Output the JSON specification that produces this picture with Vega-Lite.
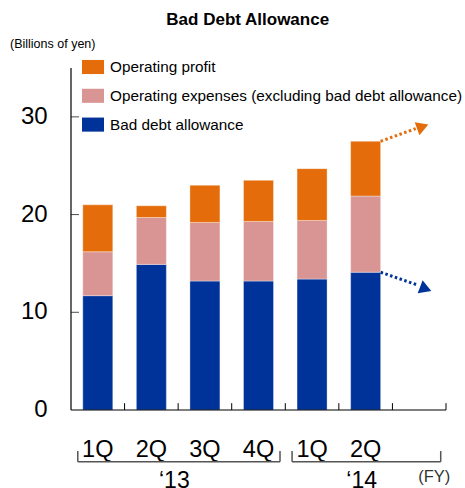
{
  "$schema": "https://vega.github.io/schema/vega-lite/v6.json",
  "width": 375,
  "height": 342,
  "autosize": {"type": "none"},
  "padding": {"left": 71, "top": 68, "right": 19, "bottom": 78},
  "config": {
    "font": "Liberation Sans",
    "view": {"stroke": null}
  },
  "layer": [
    {
      "data": {
        "values": [
          {"q": "1Q13", "cat": "Bad debt allowance", "v": 11.7},
          {"q": "1Q13", "cat": "Operating expenses (excluding bad debt allowance)", "v": 4.5},
          {"q": "1Q13", "cat": "Operating profit", "v": 4.8},
          {"q": "2Q13", "cat": "Bad debt allowance", "v": 14.9},
          {"q": "2Q13", "cat": "Operating expenses (excluding bad debt allowance)", "v": 4.8},
          {"q": "2Q13", "cat": "Operating profit", "v": 1.2},
          {"q": "3Q13", "cat": "Bad debt allowance", "v": 13.2},
          {"q": "3Q13", "cat": "Operating expenses (excluding bad debt allowance)", "v": 6.0},
          {"q": "3Q13", "cat": "Operating profit", "v": 3.8},
          {"q": "4Q13", "cat": "Bad debt allowance", "v": 13.2},
          {"q": "4Q13", "cat": "Operating expenses (excluding bad debt allowance)", "v": 6.1},
          {"q": "4Q13", "cat": "Operating profit", "v": 4.2},
          {"q": "1Q14", "cat": "Bad debt allowance", "v": 13.4},
          {"q": "1Q14", "cat": "Operating expenses (excluding bad debt allowance)", "v": 6.0},
          {"q": "1Q14", "cat": "Operating profit", "v": 5.3},
          {"q": "2Q14", "cat": "Bad debt allowance", "v": 14.1},
          {"q": "2Q14", "cat": "Operating expenses (excluding bad debt allowance)", "v": 7.8},
          {"q": "2Q14", "cat": "Operating profit", "v": 5.6}
        ]
      },
      "mark": {"type": "bar", "width": {"band": 0.56}, "stroke": "#ffffff", "strokeOpacity": 0.35, "strokeWidth": 1},
      "encoding": {
        "x": {
          "field": "q",
          "type": "nominal",
          "sort": null,
          "scale": {"domain": ["1Q13", "2Q13", "3Q13", "4Q13", "1Q14", "2Q14", "3Q14"], "paddingInner": 0, "paddingOuter": 0},
          "axis": null
        },
        "y": {
          "field": "v",
          "type": "quantitative",
          "stack": "zero",
          "scale": {"domain": [0, 35], "nice": false},
          "axis": null
        },
        "order": {"field": "cat", "sort": "ascending"},
        "color": {
          "field": "cat",
          "type": "nominal",
          "scale": {
            "domain": ["Operating profit", "Operating expenses (excluding bad debt allowance)", "Bad debt allowance"],
            "range": ["#e46c0a", "#d99594", "#003399"]
          },
          "legend": {
            "orient": "none",
            "legendX": 11,
            "legendY": -12,
            "title": null,
            "padding": 0,
            "symbolType": "M-1,-0.64H1V0.64H-1Z",
            "symbolSize": 484,
            "symbolStrokeWidth": 0,
            "symbolOpacity": 1,
            "labelFontSize": 15.3,
            "labelColor": "#000",
            "labelOffset": 6,
            "labelLimit": 400,
            "rowPadding": 8.8
          }
        }
      }
    },
    {
      "data": {"values": [{"a": "1Q13"}]},
      "mark": {"type": "rule", "color": "#000", "strokeWidth": 1.2},
      "encoding": {
        "x": {"field": "a", "type": "nominal", "bandPosition": 0, "scale": {"domain": ["1Q13", "2Q13", "3Q13", "4Q13", "1Q14", "2Q14", "3Q14"]}, "axis": null}
      }
    },
    {
      "data": {"values": [{"v": 0}]},
      "mark": {"type": "rule", "color": "#000", "strokeWidth": 1.2},
      "encoding": {
        "y": {"field": "v", "type": "quantitative", "scale": {"domain": [0, 35], "nice": false}, "axis": null}
      }
    },
    {
      "data": {"values": [{"a": "2Q13"}, {"a": "3Q13"}, {"a": "4Q13"}, {"a": "1Q14"}, {"a": "2Q14"}, {"a": "3Q14"}]},
      "mark": {"type": "rule", "color": "#000", "strokeWidth": 1},
      "encoding": {
        "x": {"field": "a", "type": "nominal", "bandPosition": 0, "scale": {"domain": ["1Q13", "2Q13", "3Q13", "4Q13", "1Q14", "2Q14", "3Q14"]}, "axis": null},
        "y": {"datum": 0, "type": "quantitative", "scale": {"domain": [0, 35], "nice": false}, "axis": null},
        "y2": {"datum": 0.7}
      }
    },
    {
      "data": {"values": [{"a": "3Q14"}]},
      "mark": {"type": "rule", "color": "#000", "strokeWidth": 1},
      "encoding": {
        "x": {"field": "a", "type": "nominal", "bandPosition": 1, "scale": {"domain": ["1Q13", "2Q13", "3Q13", "4Q13", "1Q14", "2Q14", "3Q14"]}, "axis": null},
        "y": {"datum": 0, "type": "quantitative", "scale": {"domain": [0, 35], "nice": false}, "axis": null},
        "y2": {"datum": 0.7}
      }
    },
    {
      "data": {"values": [{"a": "1Q13", "v": 10}, {"a": "1Q13", "v": 20}, {"a": "1Q13", "v": 30}]},
      "mark": {"type": "tick", "color": "#000", "size": 8, "thickness": 1, "xOffset": -22.8, "orient": "horizontal"},
      "encoding": {
        "x": {"field": "a", "type": "nominal", "scale": {"domain": ["1Q13", "2Q13", "3Q13", "4Q13", "1Q14", "2Q14", "3Q14"]}, "axis": null},
        "y": {"field": "v", "type": "quantitative", "scale": {"domain": [0, 35], "nice": false}, "axis": null}
      }
    },
    {
      "data": {"values": [{"a": "1Q13", "v": 0, "t": "0"}, {"a": "1Q13", "v": 10, "t": "10"}, {"a": "1Q13", "v": 20, "t": "20"}, {"a": "1Q13", "v": 30, "t": "30"}]},
      "mark": {"type": "text", "fontSize": 24, "color": "#000", "baseline": "middle", "align": "right", "dx": -23.3},
      "encoding": {
        "x": {"field": "a", "type": "nominal", "bandPosition": 0, "scale": {"domain": ["1Q13", "2Q13", "3Q13", "4Q13", "1Q14", "2Q14", "3Q14"]}, "axis": null},
        "y": {"field": "v", "type": "quantitative", "scale": {"domain": [0, 35], "nice": false}, "axis": null},
        "text": {"field": "t"}
      }
    },
    {
      "data": {"values": [{"a": "1Q13", "t": "1Q"}, {"a": "2Q13", "t": "2Q"}, {"a": "3Q13", "t": "3Q"}, {"a": "4Q13", "t": "4Q"}, {"a": "1Q14", "t": "1Q"}, {"a": "2Q14", "t": "2Q"}]},
      "mark": {"type": "text", "fontSize": 23.5, "color": "#000", "baseline": "alphabetic", "align": "center"},
      "encoding": {
        "x": {"field": "a", "type": "nominal", "scale": {"domain": ["1Q13", "2Q13", "3Q13", "4Q13", "1Q14", "2Q14", "3Q14"]}, "axis": null},
        "y": {"datum": -4.81, "type": "quantitative", "scale": {"domain": [0, 35], "nice": false}, "axis": null},
        "text": {"field": "t"}
      }
    },
    {
      "data": {"values": [{"t": "Bad Debt Allowance", "a": "4Q13"}]},
      "mark": {"type": "text", "fontSize": 17, "fontWeight": "bold", "color": "#000", "baseline": "alphabetic", "align": "center", "dx": 16},
      "encoding": {
        "x": {"field": "a", "type": "nominal", "bandPosition": 0, "scale": {"domain": ["1Q13", "2Q13", "3Q13", "4Q13", "1Q14", "2Q14", "3Q14"]}, "axis": null},
        "y": {"datum": 39.37, "type": "quantitative", "scale": {"domain": [0, 35], "nice": false}, "axis": null},
        "text": {"field": "t"}
      }
    },
    {
      "data": {"values": [{"t": "(Billions of yen)", "a": "1Q13"}]},
      "mark": {"type": "text", "fontSize": 12.5, "color": "#000", "baseline": "middle", "align": "left", "dx": -61},
      "encoding": {
        "x": {"field": "a", "type": "nominal", "bandPosition": 0, "scale": {"domain": ["1Q13", "2Q13", "3Q13", "4Q13", "1Q14", "2Q14", "3Q14"]}, "axis": null},
        "y": {"datum": 37.45, "type": "quantitative", "scale": {"domain": [0, 35], "nice": false}, "axis": null},
        "text": {"field": "t"}
      }
    },
    {
      "data": {"values": [{"a": "1Q13", "b": "4Q13"}, {"a": "1Q14", "b": "3Q14"}]},
      "mark": {"type": "rule", "color": "#555", "strokeWidth": 1.5, "xOffset": -20, "x2Offset": 21.5},
      "encoding": {
        "x": {"field": "a", "type": "nominal", "scale": {"domain": ["1Q13", "2Q13", "3Q13", "4Q13", "1Q14", "2Q14", "3Q14"]}, "axis": null},
        "x2": {"field": "b"},
        "y": {"datum": -5.3, "type": "quantitative", "scale": {"domain": [0, 35], "nice": false}, "axis": null}
      }
    },
    {
      "data": {"values": [{"a": "1Q13"}, {"a": "1Q14"}]},
      "mark": {"type": "rule", "color": "#555", "strokeWidth": 1.5, "xOffset": -20},
      "encoding": {
        "x": {"field": "a", "type": "nominal", "scale": {"domain": ["1Q13", "2Q13", "3Q13", "4Q13", "1Q14", "2Q14", "3Q14"]}, "axis": null},
        "y": {"datum": -4.2, "type": "quantitative", "scale": {"domain": [0, 35], "nice": false}, "axis": null},
        "y2": {"datum": -5.3}
      }
    },
    {
      "data": {"values": [{"a": "4Q13"}, {"a": "3Q14"}]},
      "mark": {"type": "rule", "color": "#555", "strokeWidth": 1.5, "xOffset": 21.5},
      "encoding": {
        "x": {"field": "a", "type": "nominal", "scale": {"domain": ["1Q13", "2Q13", "3Q13", "4Q13", "1Q14", "2Q14", "3Q14"]}, "axis": null},
        "y": {"datum": -4.2, "type": "quantitative", "scale": {"domain": [0, 35], "nice": false}, "axis": null},
        "y2": {"datum": -5.3}
      }
    },
    {
      "data": {"values": [{"t": "‘13", "a": "2Q13"}]},
      "mark": {"type": "text", "fontSize": 23, "color": "#000", "baseline": "alphabetic", "align": "center", "dx": 23},
      "encoding": {
        "x": {"field": "a", "type": "nominal", "scale": {"domain": ["1Q13", "2Q13", "3Q13", "4Q13", "1Q14", "2Q14", "3Q14"]}, "axis": null},
        "y": {"datum": -7.95, "type": "quantitative", "scale": {"domain": [0, 35], "nice": false}, "axis": null},
        "text": {"field": "t"}
      }
    },
    {
      "data": {"values": [{"t": "‘14", "a": "2Q14"}]},
      "mark": {"type": "text", "fontSize": 23, "color": "#000", "baseline": "alphabetic", "align": "center", "dx": -4},
      "encoding": {
        "x": {"field": "a", "type": "nominal", "scale": {"domain": ["1Q13", "2Q13", "3Q13", "4Q13", "1Q14", "2Q14", "3Q14"]}, "axis": null},
        "y": {"datum": -7.95, "type": "quantitative", "scale": {"domain": [0, 35], "nice": false}, "axis": null},
        "text": {"field": "t"}
      }
    },
    {
      "data": {"values": [{"t": "(FY)", "a": "3Q14"}]},
      "mark": {"type": "text", "fontSize": 16.5, "color": "#333", "baseline": "alphabetic", "align": "center", "dx": 15},
      "encoding": {
        "x": {"field": "a", "type": "nominal", "scale": {"domain": ["1Q13", "2Q13", "3Q13", "4Q13", "1Q14", "2Q14", "3Q14"]}, "axis": null},
        "y": {"datum": -7.4, "type": "quantitative", "scale": {"domain": [0, 35], "nice": false}, "axis": null},
        "text": {"field": "t"}
      }
    },
    {
      "data": {"values": [{"a": "2Q14", "b": "3Q14", "v": 27.5, "w": 28.8}]},
      "mark": {"type": "rule", "color": "#e46c0a", "strokeWidth": 3, "strokeDash": [2.5, 2.5], "xOffset": 15, "x2Offset": -3.5},
      "encoding": {
        "x": {"field": "a", "type": "nominal", "scale": {"domain": ["1Q13", "2Q13", "3Q13", "4Q13", "1Q14", "2Q14", "3Q14"]}, "axis": null},
        "x2": {"field": "b"},
        "y": {"field": "v", "type": "quantitative", "scale": {"domain": [0, 35], "nice": false}, "axis": null},
        "y2": {"field": "w"}
      }
    },
    {
      "data": {"values": [{"a": "3Q14", "v": 29.0}]},
      "mark": {"type": "point", "shape": "triangle-right", "filled": true, "opacity": 1, "color": "#e46c0a", "size": 190, "angle": -20, "xOffset": 3.5},
      "encoding": {
        "x": {"field": "a", "type": "nominal", "scale": {"domain": ["1Q13", "2Q13", "3Q13", "4Q13", "1Q14", "2Q14", "3Q14"]}, "axis": null},
        "y": {"field": "v", "type": "quantitative", "scale": {"domain": [0, 35], "nice": false}, "axis": null}
      }
    },
    {
      "data": {"values": [{"a": "2Q14", "b": "3Q14", "v": 14.1, "w": 12.8}]},
      "mark": {"type": "rule", "color": "#003399", "strokeWidth": 3, "strokeDash": [2.5, 2.5], "xOffset": 15, "x2Offset": -2},
      "encoding": {
        "x": {"field": "a", "type": "nominal", "scale": {"domain": ["1Q13", "2Q13", "3Q13", "4Q13", "1Q14", "2Q14", "3Q14"]}, "axis": null},
        "x2": {"field": "b"},
        "y": {"field": "v", "type": "quantitative", "scale": {"domain": [0, 35], "nice": false}, "axis": null},
        "y2": {"field": "w"}
      }
    },
    {
      "data": {"values": [{"a": "3Q14", "v": 12.4}]},
      "mark": {"type": "point", "shape": "triangle-right", "filled": true, "opacity": 1, "color": "#003399", "size": 190, "angle": 21, "xOffset": 6.5},
      "encoding": {
        "x": {"field": "a", "type": "nominal", "scale": {"domain": ["1Q13", "2Q13", "3Q13", "4Q13", "1Q14", "2Q14", "3Q14"]}, "axis": null},
        "y": {"field": "v", "type": "quantitative", "scale": {"domain": [0, 35], "nice": false}, "axis": null}
      }
    }
  ]
}
